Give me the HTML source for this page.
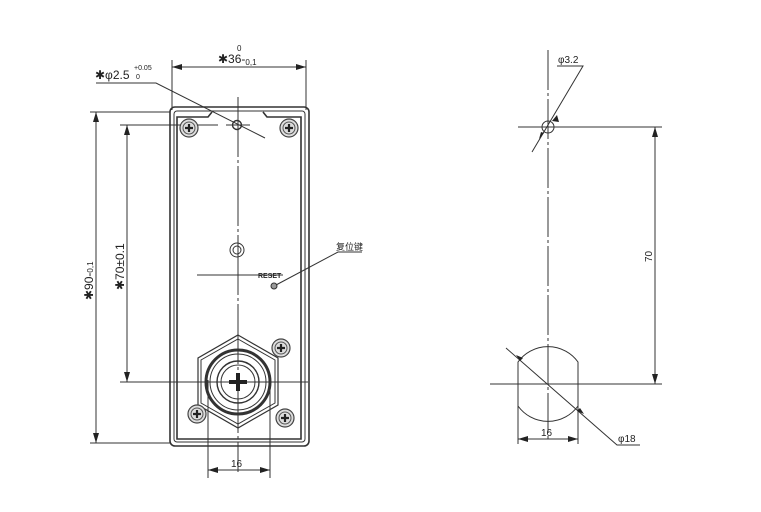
<!DOCTYPE html>
<html><head><meta charset="utf-8"><style>
html,body{margin:0;padding:0;background:#fff;}
svg{display:block;}
text{font-family:"Liberation Sans","Noto Sans CJK SC",sans-serif;fill:#222;}
</style></head><body>
<svg width="761" height="512" viewBox="0 0 761 512" xmlns="http://www.w3.org/2000/svg">
<defs>
<marker id="a" viewBox="0 0 10 6" refX="10" refY="3" markerWidth="10" markerHeight="6" orient="auto-start-reverse" markerUnits="userSpaceOnUse"><path d="M0,0 L10,3 L0,6 z" fill="#222"/></marker>
<g id="scr"><circle r="9" fill="#ddd" stroke="#444" stroke-width="1.2"/><circle r="6" fill="none" stroke="#555" stroke-width="1"/><path d="M-4,0H4M0,-4V4" stroke="#222" stroke-width="2.2"/></g>
</defs>
<g stroke="#333" fill="none" stroke-width="1">
<rect x="170" y="107" width="139" height="339" rx="5" stroke-width="1.6"/>
<rect x="174" y="111" width="131" height="331" rx="3"/>
<path d="M212,112 L208,117 H177 V439 H301 V117 H267 L263,112" stroke-width="1.6"/>
<line x1="172" y1="60" x2="172" y2="110"/><line x1="306" y1="60" x2="306" y2="110"/>
<line x1="172" y1="67" x2="306" y2="67" marker-start="url(#a)" marker-end="url(#a)"/>
<path d="M96,83 H156 L265,138"/>
<line x1="90" y1="112" x2="170" y2="112"/><line x1="90" y1="443" x2="170" y2="443"/>
<line x1="96" y1="112" x2="96" y2="443" marker-start="url(#a)" marker-end="url(#a)"/>
<line x1="120" y1="125" x2="218" y2="125"/>
<line x1="127" y1="125" x2="127" y2="382" marker-start="url(#a)" marker-end="url(#a)"/>
<line x1="120" y1="382" x2="308" y2="382"/>
<line x1="238" y1="97" x2="238" y2="472" stroke-dasharray="60,3,3,3"/>
<circle cx="237" cy="125" r="4.5" stroke-width="1.4"/>
<line x1="226" y1="125" x2="250" y2="125"/>
<circle cx="237" cy="250" r="7"/><circle cx="237" cy="250" r="4"/>
<line x1="197" y1="275" x2="283" y2="275"/>
<circle cx="274" cy="286" r="3" fill="#999"/>
<path d="M276,285 L338,252 H362"/>
<polygon points="238,335 278,358 278,405 238,428 198,405 198,358" stroke-width="1.2"/>
<polygon points="238,339 275,360 275,403 238,424 201,403 201,360"/>
<circle cx="238" cy="382" r="32" stroke-width="3"/>
<circle cx="238" cy="382" r="28"/>
<circle cx="238" cy="382" r="21" stroke-width="1.4"/>
<circle cx="238" cy="382" r="17"/>
<path d="M229,382H247M238,373V391" stroke="#222" stroke-width="4"/>
<line x1="208" y1="380" x2="208" y2="478"/><line x1="270" y1="380" x2="270" y2="478"/>
<line x1="208" y1="470" x2="270" y2="470" marker-start="url(#a)" marker-end="url(#a)"/>
<line x1="548" y1="50" x2="548" y2="440" stroke-dasharray="40,3,3,3"/>
<line x1="518" y1="127" x2="662" y2="127"/>
<circle cx="548" cy="127" r="6"/>
<path d="M532,152 L583,66 H557"/>
<line x1="655" y1="127" x2="655" y2="384" marker-start="url(#a)" marker-end="url(#a)"/>
<line x1="490" y1="384" x2="662" y2="384"/>
<path d="M518,362 A37,37 0 0 1 578,362 V406 A37,37 0 0 1 518,406 Z"/>
<line x1="518" y1="406" x2="518" y2="444"/><line x1="578" y1="406" x2="578" y2="444"/>
<line x1="518" y1="439" x2="578" y2="439" marker-start="url(#a)" marker-end="url(#a)"/>
<path d="M506,348 L617,445 H640"/>
</g>
<use href="#scr" x="189" y="128"/>
<use href="#scr" x="289" y="128"/>
<use href="#scr" x="281" y="348"/>
<use href="#scr" x="197" y="414"/>
<use href="#scr" x="285" y="418"/>
<g fill="#222">
<path d="M520,361 l-4,-6 l7,3z"/><path d="M580,408 l4,6 l-7,-3z"/>
<path d="M544,133 l-5,6 l2,-7z"/><path d="M552,121 l5,-6 l2,7z"/>
</g>
<text x="218" y="63" font-size="12">✱36-<tspan font-size="8" dy="2">0,1</tspan></text>
<text x="237" y="51" font-size="8">0</text>
<text x="95" y="79" font-size="12">✱φ2.5</text>
<text x="134" y="70" font-size="7">+0.05</text>
<text x="136" y="79" font-size="7">0</text>
<text transform="translate(93,300) rotate(-90)" font-size="12">✱90-<tspan font-size="8">0,1</tspan></text>
<text transform="translate(124,290) rotate(-90)" font-size="12">✱70±0.1</text>
<text x="258" y="278" font-size="7" font-weight="bold">RESET</text>
<text x="336" y="250" font-size="9">复位键</text>
<text x="231" y="467" font-size="10">16</text>
<text x="558" y="63" font-size="10">φ3.2</text>
<text transform="translate(652,262) rotate(-90)" font-size="10">70</text>
<text x="541" y="436" font-size="10">16</text>
<text x="618" y="442" font-size="10">φ18</text>
</svg>
</body></html>
